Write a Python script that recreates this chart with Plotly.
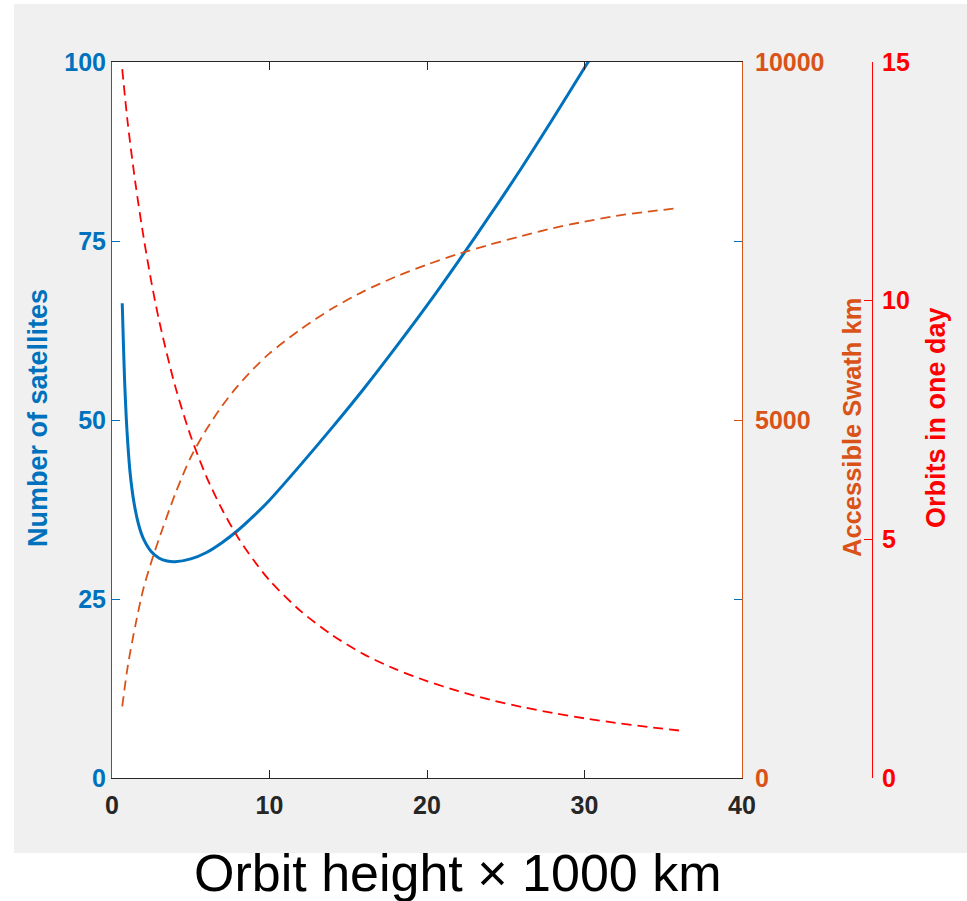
import plotly.graph_objects as go

# ---- data ----
sat_height = [0.65, 0.72, 0.8, 0.9, 1.0, 1.15, 1.4, 1.7, 2.0, 2.5, 3.0, 3.5, 4.0, 5.0, 6.0,
              7.0, 8.0, 9.0, 10, 12, 14, 16, 18, 20, 22, 24, 26, 28, 30, 30.4]
satellites = [66.3, 61, 55.5, 50.5, 46.8, 42.6, 38.4, 35.3, 33.4, 31.6, 30.7, 30.3, 30.2, 30.6, 31.5,
              32.9, 34.6, 36.6, 38.8, 43.8, 49.0, 54.4, 60.1, 66.0, 72.2, 78.6, 85.2, 92.1, 99.2, 100.6]

height = [0.65, 1.0, 1.5, 2.0, 2.5, 3.0, 4.0, 5.0, 6.0, 7.0, 8.0, 9.0, 10, 12, 14, 16, 18,
          20, 22, 24, 26, 28, 30, 32, 34, 36]
swath_km = [1000, 1560, 2150, 2650, 3020, 3350, 3960, 4480, 4870, 5200, 5480, 5720, 5930, 6270,
            6560, 6800, 7000, 7170, 7320, 7450, 7570, 7680, 7770, 7850, 7910, 7960]
orbits_day = [14.85, 13.72, 12.43, 11.34, 10.39, 9.57, 8.22, 7.16, 6.31, 5.62, 5.04, 4.56, 4.14,
              3.49, 2.99, 2.59, 2.28, 2.03, 1.82, 1.64, 1.49, 1.36, 1.25, 1.155, 1.07, 0.995]

x_ticks = [0, 10, 20, 30, 40]
y1_ticks = [0, 25, 50, 75, 100]
y2_ticks = [0, 5000, 10000]
y2_labels = ["0", "5000", "10000"]
y3_ticks = [0, 5, 10, 15]

BLUE = "#0072BD"
ORANGE = "#D95319"
RED = "#FF0000"
AX = "#262626"
FONT = "Liberation Sans"

W, H = 967, 901
L, R, T, B = 112, 40, 62, 123
PW = W - L - R   # 815
PH = H - T - B   # 716
plot_right_px = 742
red_axis_px = 872


def px_x(px):
    return (px - L) / PW


def px_y(py):
    return (T + PH - py) / PH


fig = go.Figure()
fig.add_trace(go.Scatter(x=sat_height, y=satellites, mode="lines", yaxis="y",
                         line=dict(color=BLUE, width=3, shape="spline", smoothing=0.8),
                         showlegend=False, cliponaxis=True))
fig.add_trace(go.Scatter(x=height, y=swath_km, mode="lines", yaxis="y2",
                         line=dict(color=ORANGE, width=1.8, dash="10px,6px", shape="spline", smoothing=0.8),
                         showlegend=False))
fig.add_trace(go.Scatter(x=height, y=orbits_day, mode="lines", yaxis="y3",
                         line=dict(color=RED, width=1.8, dash="10px,6px", shape="spline", smoothing=0.8),
                         showlegend=False))

tickfont = dict(family=FONT, size=25)

fig.update_layout(
    width=W, height=H,
    margin=dict(l=L, r=R, t=T, b=B),
    paper_bgcolor="#f0f0f0",
    plot_bgcolor="white",
    xaxis=dict(domain=[0, px_x(plot_right_px)], range=[0, 40], tickvals=x_ticks,
               ticks="inside", ticklen=8, tickcolor=AX, showline=True, linecolor=AX, linewidth=1,
               mirror="ticks", showgrid=False, zeroline=False, ticklabelstandoff=5,
               tickfont=dict(tickfont, color=AX, weight="bold")),
    yaxis=dict(range=[0, 100], tickvals=y1_ticks, ticks="inside", ticklen=8, tickcolor=BLUE,
               showline=True, linecolor=BLUE, linewidth=1, mirror="ticks", showgrid=False,
               zeroline=False, tickfont=dict(tickfont, color=BLUE, weight="bold")),
    yaxis2=dict(range=[0, 10000], tickvals=y2_ticks, ticktext=y2_labels, overlaying="y",
                side="right", anchor="x",
                ticks="inside", ticklen=8, tickcolor=ORANGE, showline=True, linecolor=ORANGE,
                linewidth=1, showgrid=False, zeroline=False, ticklabelstandoff=7,
                tickfont=dict(tickfont, color=ORANGE, weight="bold")),
    yaxis3=dict(range=[0, 15], tickvals=y3_ticks, overlaying="y", side="right", anchor="free",
                position=px_x(red_axis_px), ticks="inside", ticklen=8, tickcolor=RED,
                showline=True, linecolor=RED, linewidth=1, showgrid=False, zeroline=False,
                ticklabelstandoff=4,
                tickfont=dict(tickfont, color=RED, weight="bold")),
    shapes=[
        dict(type="rect", xref="paper", yref="paper", x0=px_x(0), x1=px_x(14), y0=px_y(H), y1=px_y(0),
             fillcolor="white", line=dict(width=0), layer="below"),
        dict(type="rect", xref="paper", yref="paper", x0=px_x(0), x1=px_x(W), y0=px_y(4), y1=px_y(0),
             fillcolor="white", line=dict(width=0), layer="below"),
        dict(type="rect", xref="paper", yref="paper", x0=px_x(0), x1=px_x(W), y0=px_y(H), y1=px_y(853),
             fillcolor="white", line=dict(width=0), layer="below"),
    ],
    annotations=[
        dict(text="Number of satellites", xref="paper", yref="paper", x=px_x(38), y=px_y(418),
             xanchor="center", yanchor="middle", textangle=-90, showarrow=False,
             font=dict(family=FONT, size=27, color=BLUE, weight="bold")),
        dict(text="Accessible Swath km", xref="paper", yref="paper", x=px_x(852), y=px_y(428),
             xanchor="center", yanchor="middle", textangle=-90, showarrow=False,
             font=dict(family=FONT, size=25.5, color=ORANGE, weight="bold")),
        dict(text="Orbits in one day", xref="paper", yref="paper", x=px_x(936), y=px_y(418),
             xanchor="center", yanchor="middle", textangle=-90, showarrow=False,
             font=dict(family=FONT, size=27, color=RED, weight="bold")),
        dict(text="Orbit height × 1000 km", xref="paper", yref="paper", x=px_x(458), y=px_y(873),
             xanchor="center", yanchor="middle", showarrow=False,
             font=dict(family=FONT, size=52, color="black")),
    ],
)

fig.write_html("out.html")
